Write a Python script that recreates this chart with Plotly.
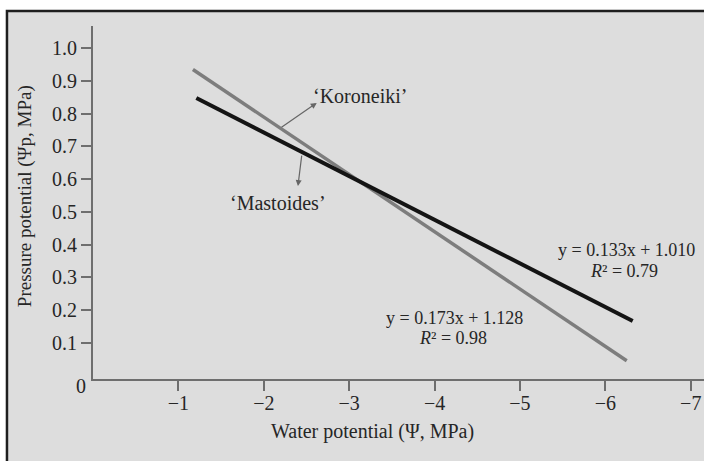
import plotly.graph_objects as go

# Data
koroneiki_x = [-1.17, -6.25]
koroneiki_y = [0.935, 0.045]
mastoides_x = [-1.21, -6.32]
mastoides_y = [0.848, 0.166]

x_tick_vals = [-1, -2, -3, -4, -5, -6, -7]
x_tick_text = ["\u22121", "\u22122", "\u22123", "\u22124", "\u22125", "\u22126", "\u22127"]
y_tick_vals = [0.1, 0.2, 0.3, 0.4, 0.5, 0.6, 0.7, 0.8, 0.9, 1.0]
y_tick_text = ["0.1", "0.2", "0.3", "0.4", "0.5", "0.6", "0.7", "0.8", "0.9", "1.0"]

FONT = "Liberation Serif, Times New Roman, serif"
TXT = "#262626"
BG = "#dddddd"
AX = "#6e6e6e"

fig = go.Figure()
fig.add_trace(go.Scatter(x=koroneiki_x, y=koroneiki_y, mode="lines",
                         line=dict(color="#7d7d7d", width=3.5), name="Koroneiki",
                         showlegend=False, hoverinfo="skip"))
fig.add_trace(go.Scatter(x=mastoides_x, y=mastoides_y, mode="lines",
                         line=dict(color="#141414", width=4), name="Mastoides",
                         showlegend=False, hoverinfo="skip"))

fig.update_layout(
    width=704, height=461,
    margin=dict(l=93, r=0, t=26, b=82),
    paper_bgcolor="white",
    plot_bgcolor="rgba(0,0,0,0)",
    font=dict(family=FONT, color=TXT, size=20),
    xaxis=dict(range=[0, -7.155], tickvals=x_tick_vals, ticktext=x_tick_text,
               showline=True, linecolor=AX, linewidth=2, ticks="outside",
               ticklen=10, tickwidth=1.5, tickcolor=AX, showgrid=False,
               ticklabelstandoff=-5,
               zeroline=False, tickfont=dict(family=FONT, size=20, color=TXT)),
    yaxis=dict(range=[-0.011, 1.068], tickvals=y_tick_vals, ticktext=y_tick_text,
               showline=True, linecolor=AX, linewidth=2, ticks="outside",
               ticklen=10, tickwidth=1.5, tickcolor=AX, showgrid=False,
               zeroline=False, tickfont=dict(family=FONT, size=20, color=TXT)),
    shapes=[dict(type="rect", xref="paper", yref="paper",
                 x0=-0.1408, x1=1.1, y0=-0.4, y1=1.0425,
                 fillcolor=BG, line=dict(color="#1e1e1e", width=2.5),
                 layer="below")],
)

ann = []
# axis titles
ann.append(dict(xref="paper", yref="paper", x=0.458, y=-0.150, text="Water potential (\u03a8, MPa)",
                showarrow=False, xanchor="center", yanchor="middle",
                font=dict(family=FONT, size=20, color=TXT)))
ann.append(dict(xref="paper", yref="paper", x=-0.1113, y=0.518, text="Pressure potential (\u03a8p, MPa)",
                showarrow=False, textangle=-90, xanchor="center", yanchor="middle",
                font=dict(family=FONT, size=19, color=TXT)))
# origin label
ann.append(dict(x=0, y=0, text="0", showarrow=False, xshift=-12, yshift=-11,
                font=dict(family=FONT, size=20, color=TXT)))
# cultivar labels
ann.append(dict(x=-3.13, y=0.855, text="\u2018Koroneiki\u2019", showarrow=False,
                font=dict(family=FONT, size=20, color=TXT)))
ann.append(dict(x=-2.17, y=0.527, text="\u2018Mastoides\u2019", showarrow=False,
                font=dict(family=FONT, size=20, color=TXT)))
# arrows
ann.append(dict(x=-2.62, y=0.833, ax=-2.19, ay=0.755, axref="x", ayref="y", text=" ",
                showarrow=True, arrowhead=2, arrowsize=1, arrowwidth=1.2, arrowcolor="#666666",
                font=dict(size=1)))
ann.append(dict(x=-2.40, y=0.579, ax=-2.447, ay=0.678, axref="x", ayref="y", text=" ",
                showarrow=True, arrowhead=2, arrowsize=1, arrowwidth=1.2, arrowcolor="#666666",
                font=dict(size=1)))
# equations
ann.append(dict(x=-6.25, y=0.384, text="y = 0.133x + 1.010", showarrow=False,
                font=dict(family=FONT, size=18, color=TXT)))
ann.append(dict(x=-6.22, y=0.319, text="<i>R</i>\u00b2 = 0.79", showarrow=False,
                font=dict(family=FONT, size=18, color=TXT)))
ann.append(dict(x=-4.23, y=0.176, text="y = 0.173x + 1.128", showarrow=False,
                font=dict(family=FONT, size=18, color=TXT)))
ann.append(dict(x=-4.215, y=0.115, text="<i>R</i>\u00b2 = 0.98", showarrow=False,
                font=dict(family=FONT, size=18, color=TXT)))
fig.update_layout(annotations=ann)

fig.write_html(
    "out.html",
    config={"displayModeBar": False},
    post_script="document.body.style.margin='0';document.documentElement.style.overflow='hidden';document.body.style.overflow='hidden';",
)
